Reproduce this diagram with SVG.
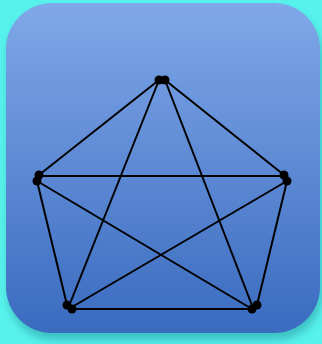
<svg xmlns="http://www.w3.org/2000/svg" width="322" height="344" viewBox="0 0 322 344">
<defs>
<linearGradient id="bg" x1="0" y1="0" x2="0" y2="1">
<stop offset="0" stop-color="#80a8e9"/>
<stop offset="1" stop-color="#3a6bbf"/>
</linearGradient>
<filter id="sh" x="-10%" y="-10%" width="130%" height="130%">
<feGaussianBlur stdDeviation="4"/>
</filter>
<style>
.e{stroke:#000;stroke-width:2;fill:none}
.v{fill:#000}
</style>
</defs>
<rect width="322" height="344" fill="#58f2ec"/>
<rect x="8" y="10" width="314" height="330" rx="46" fill="#2a9ea8" opacity="0.6" filter="url(#sh)"/>
<rect x="6" y="3" width="314" height="330" rx="46" fill="url(#bg)"/>
<g id="connectors">
<line class="e" x1="159" y1="80" x2="39" y2="175"/>
<line class="e" x1="165" y1="80" x2="284" y2="175"/>
<line class="e" x1="159" y1="80" x2="69" y2="306"/>
<line class="e" x1="165" y1="80" x2="253" y2="308"/>
<line class="e" x1="39" y1="176" x2="284" y2="176"/>
<line class="e" x1="37" y1="181" x2="67" y2="305"/>
<line class="e" x1="37" y1="181" x2="252" y2="309"/>
<line class="e" x1="287" y1="181" x2="72" y2="307"/>
<line class="e" x1="287" y1="181" x2="257" y2="305"/>
<line class="e" x1="72" y1="309" x2="252" y2="309"/>
</g>
<g id="n-top"><circle class="v" cx="159" cy="80" r="4.5"/><circle class="v" cx="165" cy="80" r="4.5"/></g>
<g id="n-left"><circle class="v" cx="39" cy="175" r="4.5"/><circle class="v" cx="37" cy="181" r="4.5"/></g>
<g id="n-right"><circle class="v" cx="284" cy="175" r="4.5"/><circle class="v" cx="287" cy="181" r="4.5"/></g>
<g id="n-bl"><circle class="v" cx="67" cy="305" r="4.5"/><circle class="v" cx="72" cy="309" r="4.5"/></g>
<g id="n-br"><circle class="v" cx="252" cy="309" r="4.5"/><circle class="v" cx="257" cy="305" r="4.5"/></g>
</svg>
